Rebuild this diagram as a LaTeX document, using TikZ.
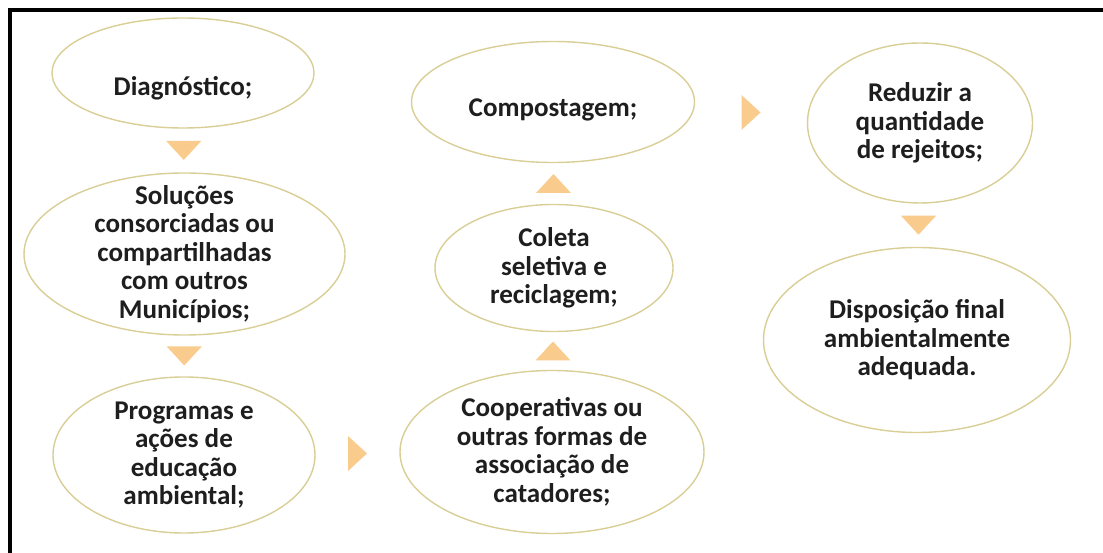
\documentclass[tikz,border=0pt]{standalone}
\usepackage{fontspec}
\setmainfont{Carlito}
\usetikzlibrary{shapes.geometric,calc}

\definecolor{rim}{RGB}{216,206,150}
\definecolor{peach}{RGB}{249,203,140}
\definecolor{ink}{RGB}{30,30,30}

\tikzset{
  stage/.style={ellipse, draw=rim, line width=0.8pt, inner sep=0pt},
  every label/.style={align=center, text=ink, font=\bfseries\fontsize{15.4}{16.2}\selectfont},
  tri/.style={fill=peach, draw=none}
}

\begin{document}
\begin{tikzpicture}
    \useasboundingbox (0,0) rectangle (22.06,11.06);
    \draw [line width=2.5pt] (0.2,0) -- (0.2,10.86) -- (22.06,10.86);

    % left column
    \node [stage, minimum width=5.24cm, minimum height=2.2cm,
        label={[yshift=-0.3cm]center:Diagnóstico;}] (diag) at (3.66,9.60) {};
    \node [stage, minimum width=6.42cm, minimum height=3.24cm,
        label={center:{Soluções\\consorciadas ou\\compartilhadas\\com outros\\Municípios;}}] (sol) at (3.69,5.98) {};
    \node [stage, minimum width=5.24cm, minimum height=3.12cm,
        label={center:{Programas e\\ações de\\educação\\ambiental;}}] (prog) at (3.68,1.96) {};

    % middle column
    \node [stage, minimum width=6.08cm, minimum height=3.26cm,
        label={center:{Cooperativas ou\\outras formas de\\associação de\\catadores;}}] (coop) at (11.04,2.02) {};
    \node [stage, minimum width=4.76cm, minimum height=2.54cm,
        label={center:{Coleta\\seletiva e\\reciclagem;}}] (col) at (11.08,5.70) {};
    \node [stage, minimum width=5.66cm, minimum height=2.42cm,
        label={[yshift=-0.15cm]center:Compostagem;}] (comp) at (11.06,9.02) {};

    % right column
    \node [stage, minimum width=4.5cm, minimum height=3.2cm,
        label={center:{Reduzir a\\quantidade\\de rejeitos;}}] (red) at (18.40,8.60) {};
    \node [stage, minimum width=6.14cm, minimum height=3.7cm,
        label={center:{Disposição final\\ambientalmente\\adequada.}}] (disp) at (18.34,4.26) {};

    % arrows between the stages
    \coordinate (a1) at ($(diag.south)!0.5!(sol.north)$);
    \coordinate (a2) at ($(sol.south)!0.5!(prog.north)$);
    \coordinate (a3) at ($(prog.east)!0.5!(coop.west)$);
    \coordinate (a4) at ($(coop.north)!0.5!(col.south)$);
    \coordinate (a5) at ($(col.north)!0.5!(comp.south)$);
    \coordinate (a6) at ($(comp.east)!0.5!(red.west)$);
    \coordinate (a7) at ($(red.south)!0.5!(disp.north)$);

    \foreach \c in {a1,a2,a7}
        \fill [tri] ([shift={(-0.35,0.19)}]\c) -- ++(0.7,0) -- ++(-0.35,-0.38) -- cycle;
    \foreach \c in {a4,a5}
        \fill [tri] ([shift={(-0.35,-0.19)}]\c) -- ++(0.7,0) -- ++(-0.35,0.38) -- cycle;
    \foreach \c in {a3,a6}
        \fill [tri] ([shift={(-0.19,0.35)}]\c) -- ++(0,-0.7) -- ++(0.38,0.35) -- cycle;
\end{tikzpicture}
\end{document}
